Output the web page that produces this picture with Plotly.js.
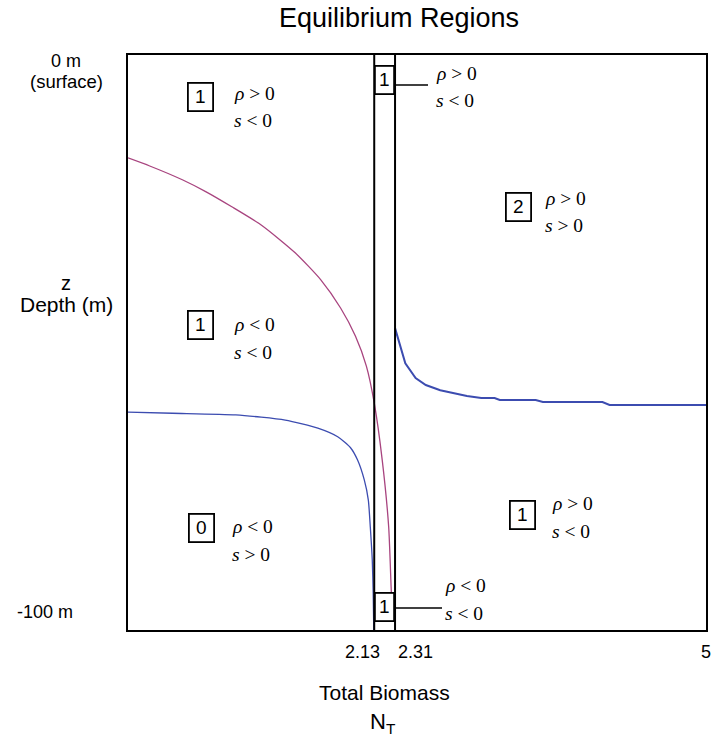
<!DOCTYPE html>
<html>
<head>
<meta charset="utf-8">
<script src="https://cdn.plot.ly/plotly-3.0.1.min.js"></script>
<style>html,body{margin:0;padding:0;background:#fff;}#chart{width:712px;height:740px;}</style>
</head>
<body>
<div id="chart"></div>
<script>
// ---- data ----
const boundaryNT = [2.13, 2.31];
const xTickVals = [2.13, 2.31, 5];
const xTickText = ['2.13', '2.31', '5'];

// magenta curve (rho = 0)
const magentaX = [0, 0.188, 0.47, 0.676, 0.898, 1.155, 1.446, 1.668, 1.839, 1.968, 2.062, 2.13, 2.199, 2.255, 2.276, 2.289];
const magentaY = [-17.9, -19.3, -21.7, -23.8, -26.4, -29.6, -34.4, -39.1, -44.0, -48.9, -54.1, -60.5, -70.4, -82.1, -92.5, -98.6];

// blue curve (s = 0), left branch
const blueLeftX = [0, 0.385, 0.932, 1.36, 1.642, 1.814, 1.925, 1.985, 2.044, 2.079, 2.096, 2.113, 2.121, 2.126];
const blueLeftY = [-62.1, -62.3, -62.6, -63.5, -64.9, -66.4, -68.3, -70.4, -73.9, -77.4, -82.1, -87.8, -93.6, -100];

// blue curve (s = 0), right branch
const blueRightX = [2.31, 2.346, 2.399, 2.488, 2.576, 2.701, 2.816, 2.932, 3.056, 3.171, 3.216, 3.527, 3.589, 4.104, 4.166, 5.0];
const blueRightY = [-47.5, -50.1, -53.6, -56.2, -57.4, -58.3, -58.8, -59.3, -59.65, -59.65, -60.0, -60.0, -60.35, -60.35, -60.87, -60.87];

// region labels
const regionNumbers = ['1', '1', '2', '1', '0', '1', '1'];
const regionRho = ['&gt; 0', '&gt; 0', '&gt; 0', '&lt; 0', '&lt; 0', '&gt; 0', '&lt; 0'];
const regionS = ['&lt; 0', '&lt; 0', '&gt; 0', '&lt; 0', '&gt; 0', '&lt; 0', '&lt; 0'];

// ---- placement helpers (pixel -> axis units for label placement only) ----
const L = 128, R = 6, T = 55, B = 110, W = 712, H = 740;
const PW = W - L - R, PH = H - T - B;
const X = p => (p - L) / PW * 5;
const Y = p => -(p - T) / PH * 100;
const midNT = (boundaryNT[0] + boundaryNT[1]) / 2;

// box centre x, box centre y, text left x, rho y, s y  (pixels)
const regionPos = [
  [200, 97, 232, 93, 120],
  [null, 80, 434, 73, 100],
  [518, 207, 543, 198, 225],
  [200, 325, 232, 324, 352],
  [201, 528, 230, 526, 554],
  [522, 515, 550, 503, 531],
  [null, 607, 443, 585, 613]
];

const serif = 'Liberation Serif, Times New Roman, serif';
const sans = 'Liberation Sans, Arial, Helvetica, sans-serif';

const annotations = [];
regionNumbers.forEach((n, i) => {
  const p = regionPos[i];
  const mid = p[0] === null;
  annotations.push({
    x: mid ? midNT : X(p[0]), y: Y(p[1]), xref: 'x', yref: 'y',
    text: n, showarrow: false, xanchor: 'center', yanchor: 'middle',
    font: {family: sans, size: 19, color: '#000'},
    bordercolor: '#000', borderwidth: 1.8, borderpad: 1,
    bgcolor: '#fff', width: mid ? 15 : 21, height: 24
  });
  annotations.push({
    x: X(p[2]), y: Y(p[3]), xref: 'x', yref: 'y',
    text: '<i>ρ</i> ' + regionRho[i], showarrow: false, xanchor: 'left', yanchor: 'middle',
    font: {family: serif, size: 19.5, color: '#000'}
  });
  annotations.push({
    x: X(p[2]), y: Y(p[4]), xref: 'x', yref: 'y',
    text: '<i>s</i> ' + regionS[i], showarrow: false, xanchor: 'left', yanchor: 'middle',
    font: {family: serif, size: 19.5, color: '#000'}
  });
});

// x tick labels
const tickShift = [-12, 20, 0];
xTickVals.forEach((v, i) => {
  annotations.push({
    x: v, y: 0, xref: 'x', yref: 'paper', yanchor: 'top', xanchor: 'center',
    yshift: -10, xshift: tickShift[i], text: xTickText[i], showarrow: false,
    font: {family: sans, size: 18, color: '#000'}
  });
});

// y side labels and axis title
const yLab = (text, cx, cy, size) => annotations.push({
  x: (cx - L) / PW, y: (H - B - cy) / PH, xref: 'paper', yref: 'paper',
  xanchor: 'center', yanchor: 'middle', text: text, showarrow: false,
  font: {family: sans, size: size, color: '#000'}
});
yLab('0 m', 66, 61, 18);
yLab('(surface)', 66, 81, 18.5);
yLab('-100 m', 45, 612, 18);
yLab('z', 66, 283, 20);
yLab('Depth (m)', 66, 304, 21);
yLab('Total Biomass', 384, 692, 21);
yLab('N<sub>T</sub>', 383, 723, 22);

const shapes = boundaryNT.map(v => ({
  type: 'line', xref: 'x', yref: 'y', x0: v, x1: v, y0: -100, y1: 0,
  line: {color: '#000', width: 2}
}));
// leader lines from the narrow-band boxes
shapes.push({type: 'line', xref: 'x', yref: 'y', x0: boundaryNT[1], x1: X(428), y0: Y(85), y1: Y(85), line: {color: '#000', width: 1.4}});
shapes.push({type: 'line', xref: 'x', yref: 'y', x0: boundaryNT[1], x1: X(442), y0: Y(608), y1: Y(608), line: {color: '#000', width: 1.4}});

const traces = [
  {x: magentaX, y: magentaY, mode: 'lines', line: {color: '#a8447f', width: 1.3, shape: 'spline', smoothing: 0.6}, hoverinfo: 'skip'},
  {x: blueLeftX, y: blueLeftY, mode: 'lines', line: {color: '#3c4cb0', width: 1.3, shape: 'spline', smoothing: 0.6}, hoverinfo: 'skip'},
  {x: blueRightX, y: blueRightY, mode: 'lines', line: {color: '#3c4cb0', width: 2}, hoverinfo: 'skip'}
];

const layout = {
  width: W, height: H,
  margin: {l: L, r: R, t: T, b: B, pad: 0},
  paper_bgcolor: '#fff', plot_bgcolor: '#fff',
  showlegend: false,
  title: {text: 'Equilibrium Regions', x: 399 / W, xref: 'container', xanchor: 'center',
          y: 1 - 18 / H, yref: 'container', yanchor: 'middle',
          font: {family: sans, size: 27, color: '#000'}},
  xaxis: {range: [0, 5], showgrid: false, zeroline: false, showline: true, mirror: true,
          linecolor: '#000', linewidth: 2, tickvals: xTickVals, ticktext: xTickText,
          showticklabels: false, ticks: '', fixedrange: true},
  yaxis: {range: [-100, 0], showgrid: false, zeroline: false, showline: true, mirror: true,
          linecolor: '#000', linewidth: 2, showticklabels: false, ticks: '', fixedrange: true},
  shapes: shapes,
  annotations: annotations
};

Plotly.newPlot('chart', traces, layout, {displayModeBar: false, staticPlot: true});
</script>
</body>
</html>
